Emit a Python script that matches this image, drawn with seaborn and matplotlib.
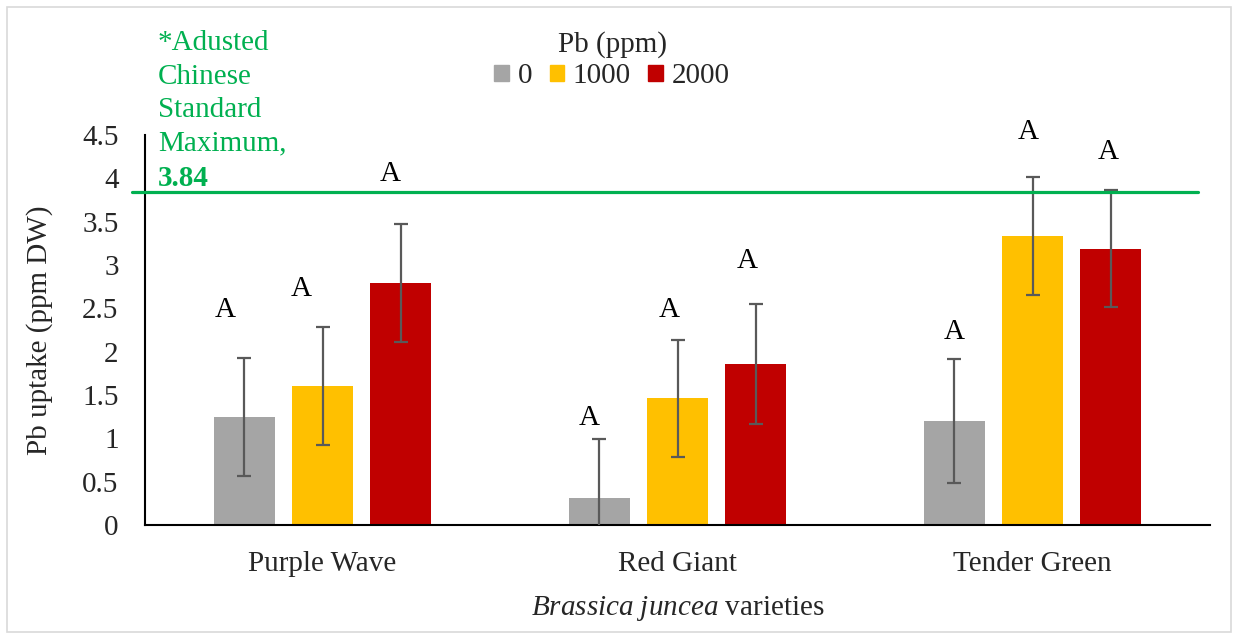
import matplotlib
matplotlib.use("Agg")
import matplotlib.pyplot as plt
import seaborn as sns
import pandas as pd
from matplotlib.patches import Rectangle

# ---- data ----
varieties = ["Purple Wave", "Red Giant", "Tender Green"]
pb_levels = ["0", "1000", "2000"]
uptake_0 = [1.25, 0.31, 1.20]
uptake_1000 = [1.60, 1.46, 3.33]
uptake_2000 = [2.79, 1.86, 3.19]
err_0 = [0.68, 0.68, 0.72]
err_1000 = [0.68, 0.68, 0.68]
err_2000 = [0.68, 0.69, 0.68]
letters_0 = ["A", "A", "A"]
letters_1000 = ["A", "A", "A"]
letters_2000 = ["A", "A", "A"]
letter_y_0 = [2.48, 1.23, 2.23]
letter_y_1000 = [2.72, 2.48, 4.54]
letter_y_2000 = [4.05, 3.05, 4.30]
standard_max = 3.84
y_ticks = [0, 0.5, 1, 1.5, 2, 2.5, 3, 3.5, 4, 4.5]
y_tick_labels = ["0", "0.5", "1", "1.5", "2", "2.5", "3", "3.5", "4", "4.5"]

colors = ["#A5A5A5", "#FFC000", "#C00000"]
green = "#00B050"
# horizontal nudges (pixels) of the letters, per Pb level / variety
letter_dx = [[-19, -10, 0], [-21, -8, -4], [-10, -8, -2]]

means = [uptake_0, uptake_1000, uptake_2000]
errs = [err_0, err_1000, err_2000]
letters = [letters_0, letters_1000, letters_2000]
letter_ys = [letter_y_0, letter_y_1000, letter_y_2000]

rows = []
for lvl, vals in zip(pb_levels, means):
    for v, m in zip(varieties, vals):
        rows.append({"variety": v, "Pb": lvl, "uptake": m})
df = pd.DataFrame(rows)

sns.set_theme(style="white")
plt.rcParams["font.family"] = ["Liberation Serif", "DejaVu Serif"]
plt.rcParams["mathtext.fontset"] = "custom"
plt.rcParams["mathtext.rm"] = "Liberation Serif"
plt.rcParams["mathtext.it"] = "Liberation Serif:italic"
plt.rcParams["mathtext.bf"] = "Liberation Serif:bold"

FS = 21
fig = plt.figure(figsize=(12.38, 6.39), dpi=100)
ax = fig.add_axes([145/1238, 1-525/639, 1065/1238, 390/639])

sns.barplot(data=df, x="variety", y="uptake", hue="Pb", order=varieties,
            hue_order=pb_levels, palette=colors, width=0.66, gap=0.22,
            errorbar=None, linewidth=0, saturation=1, ax=ax, legend=False)

bar_containers = list(ax.containers)
for ci, cont in enumerate(bar_containers):
    for bi, patch in enumerate(cont.patches):
        xc = patch.get_x() + patch.get_width()/2
        ax.errorbar(xc, means[ci][bi], yerr=errs[ci][bi], fmt="none",
                    ecolor="#595959", elinewidth=1.6, capsize=5, capthick=1.6,
                    zorder=3)
        ax.annotate(letters[ci][bi], xy=(xc, letter_ys[ci][bi]),
                    xytext=(letter_dx[ci][bi], 0), textcoords="offset pixels",
                    ha="center", va="center", fontsize=FS, color="black",
                    annotation_clip=False)

ax.axhline(standard_max, xmin=-0.012, xmax=0.989, color=green, lw=2.3,
           clip_on=False, zorder=4)

ax.set_ylim(0, 4.5)
ax.set_xlim(-0.5, 2.5)
ax.set_yticks(y_ticks)
ax.set_yticklabels(y_tick_labels)
ax.tick_params(axis="both", length=0, labelsize=FS)
ax.tick_params(axis="y", pad=19)
ax.tick_params(axis="x", pad=19)
for s in ["top", "right"]:
    ax.spines[s].set_visible(False)
for s in ["left", "bottom"]:
    ax.spines[s].set_color("black")
    ax.spines[s].set_linewidth(1.5)

ax.set_ylabel("Pb uptake (ppm DW)", fontsize=FS, labelpad=21)
ax.set_xlabel(r"$\it{Brassica\ juncea}$ varieties", fontsize=FS, labelpad=12)

# legend
handles = [Rectangle((0, 0), 1, 1, color=c) for c in colors]
leg = fig.legend(handles, pb_levels, loc="upper center",
                 bbox_to_anchor=(612/1238, 1-16/639), ncol=3, frameon=False,
                 title="Pb (ppm)", fontsize=FS, title_fontsize=FS,
                 handlelength=0.5, handleheight=0.5, handletextpad=0.3,
                 columnspacing=0.6, borderpad=0, labelspacing=0.2)

# green annotation
fig.text(158/1238, 1-30/639, "*Adusted\nChinese\nStandard\nMaximum,",
         color=green, fontsize=FS, ha="left", va="top", linespacing=1.38)
fig.text(158/1238, 1-178/639, "3.84", color=green, fontsize=FS,
         fontweight="bold", ha="left", va="center")

# figure border
fig.patches.append(Rectangle((7/1238, 7/639), 1224/1238, 625/639,
                             transform=fig.transFigure, fill=False,
                             edgecolor="#D9D9D9", lw=1.2))

fig.savefig("out.png", dpi=100)
